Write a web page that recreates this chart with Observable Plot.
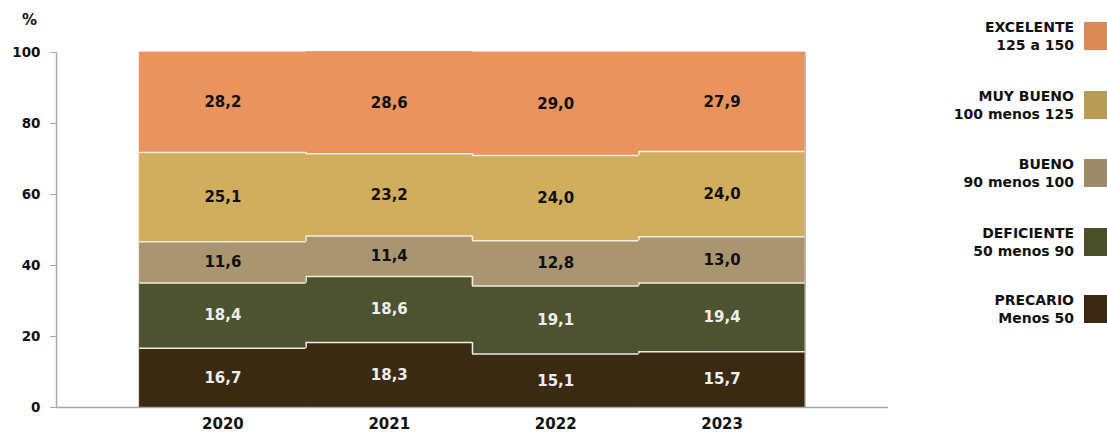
<!DOCTYPE html>
<html>
<head>
<meta charset="utf-8">
<script src="https://cdn.jsdelivr.net/npm/d3@7"></script>
<script src="https://cdn.jsdelivr.net/npm/@observablehq/plot@0.6"></script>
<style>
  body { margin: 0; background: #fff; }
  #wrap { position: relative; width: 1107px; height: 432px; overflow: hidden; font-family: "DejaVu Sans", Verdana, sans-serif; }
  #pct { position: absolute; left: 22px; top: 11px; font-weight: bold; font-size: 15px; color: #111; }
  #chart { position: absolute; left: 0; top: 0; }
  .leg { position: absolute; left: 900px; width: 207px; height: 36px; }
  .leg .t { position: absolute; right: 33px; top: 0; text-align: right; font-family: "DejaVu Sans", Verdana, sans-serif; font-weight: bold; font-size: 14px; line-height: 18px; color: #111; white-space: nowrap; }
  .leg .s { position: absolute; left: 184px; top: 4px; width: 23px; height: 28px; }
</style>
</head>
<body>
<div id="wrap">
  <div id="chart"></div>
  <div id="pct">%</div>
</div>
<script>
const years = ["2020", "2021", "2022", "2023"];
const categories = ["PRECARIO", "DEFICIENTE", "BUENO", "MUY BUENO", "EXCELENTE"];
const ranges = ["Menos 50", "50 menos 90", "90 menos 100", "100 menos 125", "125 a 150"];
const precario   = [16.7, 18.3, 15.1, 15.7];
const deficiente = [18.4, 18.6, 19.1, 19.4];
const bueno      = [11.6, 11.4, 12.8, 13.0];
const muyBueno   = [25.1, 23.2, 24.0, 24.0];
const excelente  = [28.2, 28.6, 29.0, 27.9];
const colors = ["#3b2a12", "#4d5330", "#aa9571", "#d1ad5e", "#e9935e"];
const legendColors = ["#3a2812", "#4a4f2c", "#9c8a6a", "#b89b55", "#da8957"];
const labelColors = ["#eeeeee", "#eeeeee", "#111111", "#111111", "#111111"];
const yTicks = [0, 20, 40, 60, 80, 100];

const series = [precario, deficiente, bueno, muyBueno, excelente];

// stacked rows
const rows = [];
years.forEach((yr, i) => {
  let acc = 0;
  categories.forEach((c, k) => {
    const v = series[k][i];
    rows.push({i, year: yr, cat: c, k, v, y1: acc, y2: acc + v});
    acc += v;
  });
});
const innerTops = rows.filter(d => d.k < categories.length - 1);
const steps = [];
for (let i = 1; i < years.length; i++) {
  innerTops.filter(d => d.i === i).forEach(d => {
    const prev = innerTops.find(p => p.i === i - 1 && p.k === d.k);
    steps.push({b: i - 0.5, ya: prev.y2, yb: d.y2});
  });
}
const fmt = v => v.toFixed(1).replace(".", ",");

const chart = Plot.plot({
  width: 900,
  height: 432,
  marginLeft: 56,
  marginRight: 12,
  marginTop: 52,
  marginBottom: 25,
  style: {fontFamily: "'DejaVu Sans', Verdana, sans-serif", background: "transparent"},
  x: {type: "linear", domain: [-1, 4], axis: null},
  y: {domain: [0, 100], axis: null},
  color: {domain: categories, range: colors},
  marks: [
    Plot.rectY(rows, {x1: d => d.i - 0.5, x2: d => d.i + 0.5, y1: "y1", y2: "y2", fill: "cat", stroke: "cat", strokeWidth: 0.8}),
    Plot.ruleY(innerTops, {y: "y2", x1: d => d.i - 0.5, x2: d => d.i + 0.5, stroke: "#f1ede2", strokeWidth: 1.5}),
    Plot.ruleX(steps, {x: "b", y1: "ya", y2: "yb", stroke: "#f1ede2", strokeWidth: 1.5}),
    Plot.ruleX([years.length - 0.5], {y1: 0, y2: 100, stroke: "#bdbdbd", strokeWidth: 1.5}),
    Plot.text(rows, {x: "i", y: d => (d.y1 + d.y2) / 2, text: d => fmt(d.v), fill: d => labelColors[d.k], fontWeight: "bold", fontSize: 15}),
    Plot.ruleY([0], {stroke: "#a8a8a8", strokeWidth: 1.5}),
    Plot.ruleX([-1], {stroke: "#a8a8a8", strokeWidth: 1.5}),
    Plot.axisY({ticks: yTicks, tickSize: 6, tickPadding: 10, stroke: "#a8a8a8", fill: "#111", fontSize: 13.5, fontWeight: "bold", label: null}),
    Plot.axisX({ticks: [0, 1, 2, 3], tickFormat: i => years[i], tickSize: 0, tickPadding: 11, fill: "#111", fontSize: 15, fontWeight: "bold", label: null})
  ]
});
document.getElementById("chart").appendChild(chart);

// legend (top category first)
const wrap = document.getElementById("wrap");
const legTops = [18, 87, 155, 224, 291];
for (let n = 0; n < categories.length; n++) {
  const k = categories.length - 1 - n;
  const el = document.createElement("div");
  el.className = "leg";
  el.style.top = legTops[n] + "px";
  el.innerHTML = `<div class="t">${categories[k]}<br>${ranges[k]}</div><div class="s" style="background:${legendColors[k]}"></div>`;
  wrap.appendChild(el);
}
</script>
</body>
</html>
